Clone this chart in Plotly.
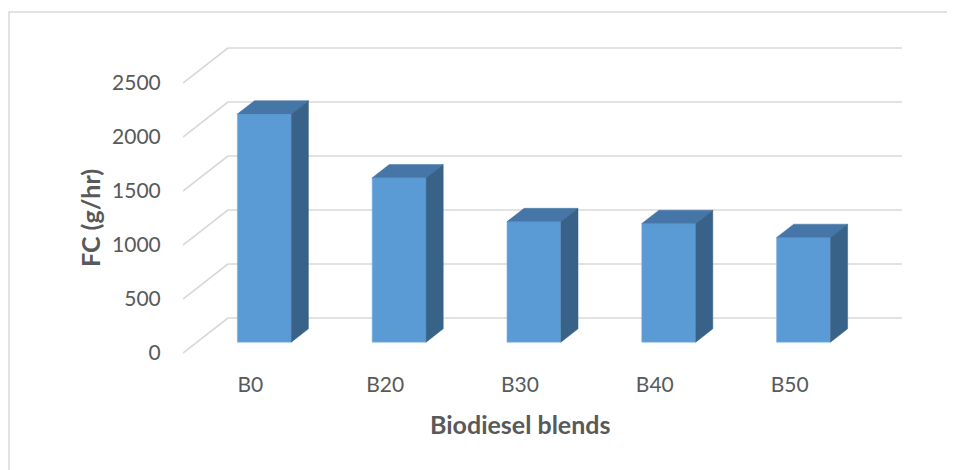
import plotly.graph_objects as go

# ---- data ----
categories = ["B0", "B20", "B30", "B40", "B50"]
fc_values = [2113, 1522, 1116, 1098, 969]
y_ticks = [0, 500, 1000, 1500, 2000, 2500]
y_tick_labels = ["0", "500", "1000", "1500", "2000", "2500"]

# ---- geometry (pixel layout of the pseudo-3D frame) ----
OFF = 8                                  # page body margin compensation
W, H = 955, 470
L, R, T, B = 183 - OFF, 905 - OFF, 40 - OFF, 360 - OFF   # plot area in figure px
CAT_PX = 134.8                           # pixels per category along front plane
VAL_PX = 0.108                           # pixels per unit of FC
ZERO_PY = 353 - OFF                      # figure pixel y of value 0 on front plane
DEPTH_PX_X, DEPTH_PX_Y = 45, 35          # oblique depth offset of back wall
BAR_F1, BAR_F2 = 0.31, 0.69              # bar front / back depth fractions
BAR_W = 0.4                              # bar width in category units

x_lo = -0.5
x_hi = -0.5 + (R - L) / CAT_PX
y_lo = -(B - ZERO_PY) / VAL_PX
y_hi = (ZERO_PY - T) / VAL_PX
DX = DEPTH_PX_X / CAT_PX
DY = DEPTH_PX_Y / VAL_PX

n = len(categories)
front_color = "#5B9BD5"
top_color = "#4676A7"
side_color = "#386288"
grid_color = "#D9D9D9"
text_color = "#595959"

fig = go.Figure()

# front faces as real bars
xs = [i + BAR_F1 * DX for i in range(n)]
fig.add_trace(go.Bar(
    x=xs, y=fc_values, base=[BAR_F1 * DY] * n, width=BAR_W,
    marker=dict(color=front_color, line=dict(color="#7DB0E0", width=0.6)),
    showlegend=False, hoverinfo="skip",
))

# top and side faces
ddx = (BAR_F2 - BAR_F1) * DX
ddy = (BAR_F2 - BAR_F1) * DY
for i, v in enumerate(fc_values):
    xc = xs[i]
    base = BAR_F1 * DY
    xl, xr = xc - BAR_W / 2, xc + BAR_W / 2
    top_y = base + v
    fig.add_trace(go.Scatter(
        x=[xl, xr, xr + ddx, xl + ddx, xl],
        y=[top_y, top_y, top_y + ddy, top_y + ddy, top_y],
        fill="toself", fillcolor=top_color, mode="lines",
        line=dict(color=top_color, width=0.5),
        showlegend=False, hoverinfo="skip"))
    fig.add_trace(go.Scatter(
        x=[xr, xr, xr + ddx, xr + ddx, xr],
        y=[base, top_y, top_y + ddy, base + ddy, base],
        fill="toself", fillcolor=side_color, mode="lines",
        line=dict(color=side_color, width=0.5),
        showlegend=False, hoverinfo="skip"))

# gridlines: back wall + left wall diagonals
shapes = []
for v in y_ticks:
    shapes.append(dict(type="line", xref="x", yref="y", layer="below",
                       x0=-0.5 + DX, x1=n - 0.5 + DX, y0=v + DY, y1=v + DY,
                       line=dict(color=grid_color, width=1.6)))
    shapes.append(dict(type="line", xref="x", yref="y", layer="below",
                       x0=-0.5, x1=-0.5 + DX, y0=v, y1=v + DY,
                       line=dict(color=grid_color, width=1.6)))

# outer chart border
pw, ph = R - L, B - T
shapes.append(dict(type="rect", xref="paper", yref="paper", layer="below",
                   x0=(1 - L) / pw, x1=(W + 10 - L) / pw,
                   y0=(B - (H + 10)) / ph, y1=(B - (12 - OFF)) / ph,
                   line=dict(color=grid_color, width=1.5)))

font_family = "Lato, 'Open Sans', sans-serif"
fig.update_layout(
    width=W, height=H,
    margin=dict(l=L, r=W - R, t=T, b=H - B),
    paper_bgcolor="white", plot_bgcolor="white",
    showlegend=False,
    shapes=shapes,
    xaxis=dict(range=[x_lo, x_hi], tickvals=list(range(n)), ticktext=categories,
               showgrid=False, zeroline=False, showline=False,
               ticks="outside", ticklen=6, tickcolor="rgba(0,0,0,0)",
               tickfont=dict(family=font_family, size=21, color=text_color),
               fixedrange=True),
    yaxis=dict(range=[y_lo, y_hi], tickvals=y_ticks, ticktext=y_tick_labels,
               showgrid=False, zeroline=False, showline=False,
               ticks="outside", ticklen=17, tickcolor="rgba(0,0,0,0)",
               tickfont=dict(family=font_family, size=21, color=text_color),
               fixedrange=True),
    annotations=[
        dict(text="<b>FC (g/hr)</b>", xref="paper", yref="paper",
             x=(90 - OFF - L) / pw, y=(B - (218 - OFF)) / ph, textangle=-90,
             xanchor="center", yanchor="middle", showarrow=False,
             font=dict(family=font_family, size=25, color=text_color)),
        dict(text="<b>Biodiesel blends</b>", xref="paper", yref="paper",
             x=(520 - OFF - L) / pw, y=(B - (424 - OFF)) / ph,
             xanchor="center", yanchor="middle", showarrow=False,
             font=dict(family=font_family, size=25, color=text_color)),
    ],
)

fig.write_html("out.html")
